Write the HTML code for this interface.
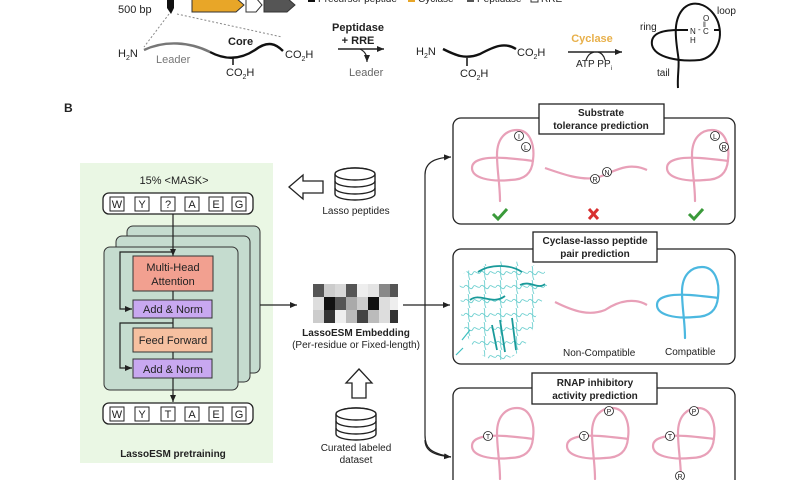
<!DOCTYPE html>
<html><head><meta charset="utf-8"><style>
html,body{margin:0;padding:0;background:#fff}
svg{display:block}
text{font-family:"Liberation Sans",Arial,sans-serif;fill:#222}
.b{font-weight:bold}
</style></head><body>
<svg width="800" height="480" viewBox="0 0 800 480" xmlns="http://www.w3.org/2000/svg">
<defs>
<marker id="ar" markerWidth="8" markerHeight="8" refX="7" refY="4" orient="auto" markerUnits="userSpaceOnUse"><path d="M0,1 L7,4 L0,7 z" fill="#222"/></marker>
<g id="knot" fill="none" stroke-width="2.2" stroke-linecap="round">
<path d="M-5,36 C-5,20 -8,5 -8,-10 C-8,-28 2,-35 12,-35 C25,-35 30,-20 28,-5 C27,8 20,15 5,15"/>
<path d="M5,15 C-15,17 -33,13 -33,3 C-33,-7 -15,-8 0,-7 C12,-6 22,-5 28,-4"/>
</g>
<g id="db" fill="#fff" stroke="#222" stroke-width="1.4">
<path d="M0,26 L0,6 A20,6 0 0 1 40,6 L40,26 A20,6 0 0 1 0,26 z"/>
<ellipse cx="20" cy="6" rx="20" ry="6"/>
<path d="M0,13 A20,6 0 0 0 40,13 M0,20 A20,6 0 0 0 40,20" fill="none"/>
</g>
<pattern id="prot" width="16" height="14" patternUnits="userSpaceOnUse">
<path d="M0,7 C3,1 6,13 9,7 C11,3 13,9 16,7 M4,0 C6,4 3,9 6,14" stroke="#70d0d0" stroke-width="0.9" fill="none"/>
</pattern>
<clipPath id="pc"><path d="M470,270 C490,258 530,258 545,272 C552,290 540,300 535,320 C530,345 515,362 495,360 C480,358 470,345 465,330 C458,315 462,300 460,288 C458,278 463,272 470,270 z"/></clipPath>
</defs>

<!-- Panel A top -->
<text x="118" y="13" font-size="11">500 bp</text>
<path d="M167,-2 L174,-2 L174,8 L171,14 L167,8 z" fill="#111"/>
<path d="M192,-2 L236,-2 L244,5 L236,12 L192,12 z" fill="#e8a628" stroke="#333" stroke-width="1"/>
<path d="M246,-2 L256,-2 L262,5 L256,12 L246,12 z" fill="#fff" stroke="#333" stroke-width="1"/>
<path d="M264,-2 L287,-2 L295,5 L287,12 L264,12 z" fill="#555" stroke="#333" stroke-width="1"/>
<rect x="308" y="-5" width="7" height="7" fill="#111"/><text x="318" y="2" font-size="10">Precursor peptide</text>
<rect x="408" y="-5" width="7" height="7" fill="#e8a628"/><text x="418" y="2" font-size="10">Cyclase</text>
<rect x="467" y="-5" width="7" height="7" fill="#555"/><text x="477" y="2" font-size="10">Peptidase</text>
<rect x="531" y="-5" width="7" height="7" fill="#fff" stroke="#333"/><text x="541" y="2" font-size="10">RRE</text>
<path d="M169,14 L144,47 M177,14 L282,37" stroke="#888" stroke-dasharray="2,2" fill="none"/>
<text x="118" y="57" font-size="11">H<tspan font-size="7" dy="3">2</tspan><tspan dy="-3">N</tspan></text>
<path d="M144,50 C165,40 190,42 210,52" stroke="#777" stroke-width="2.4" fill="none"/>
<path d="M210,52 C225,60 240,60 255,50 C268,40 276,44 283,51" stroke="#111" stroke-width="2.4" fill="none"/>
<text x="156" y="63" font-size="11" style="fill:#777">Leader</text>
<text x="228" y="45" font-size="11" class="b">Core</text>
<text x="285" y="58" font-size="11">CO<tspan font-size="7" dy="3">2</tspan><tspan dy="-3">H</tspan></text>
<line x1="233" y1="57" x2="233" y2="65" stroke="#111" stroke-width="1.5"/>
<text x="226" y="76" font-size="11">CO<tspan font-size="7" dy="3">2</tspan><tspan dy="-3">H</tspan></text>
<text x="358" y="31" font-size="11" class="b" text-anchor="middle">Peptidase</text>
<text x="358" y="44" font-size="11" class="b" text-anchor="middle">+ RRE</text>
<line x1="338" y1="49" x2="384" y2="49" stroke="#222" stroke-width="1.5" marker-end="url(#ar)"/>
<path d="M360,49 C366,52 367,56 367,62" stroke="#222" fill="none" stroke-width="1.2" marker-end="url(#ar)"/>
<text x="349" y="76" font-size="11" style="fill:#666">Leader</text>
<text x="416" y="55" font-size="11">H<tspan font-size="7" dy="3">2</tspan><tspan dy="-3">N</tspan></text>
<path d="M443,49 C455,55 465,60 480,54 C495,46 505,42 516,49" stroke="#111" stroke-width="2.4" fill="none"/>
<text x="517" y="56" font-size="11">CO<tspan font-size="7" dy="3">2</tspan><tspan dy="-3">H</tspan></text>
<line x1="467" y1="58" x2="467" y2="66" stroke="#111" stroke-width="1.5"/>
<text x="460" y="77" font-size="11">CO<tspan font-size="7" dy="3">2</tspan><tspan dy="-3">H</tspan></text>
<text x="592" y="42" font-size="11" class="b" text-anchor="middle" style="fill:#e8b04a">Cyclase</text>
<line x1="568" y1="52" x2="622" y2="52" stroke="#222" stroke-width="1.5" marker-end="url(#ar)"/>
<path d="M586,60 C588,55 590,53 594,52 M598,52 C602,53 604,56 605,60" stroke="#222" fill="none" stroke-width="1.2"/>
<text x="576" y="67" font-size="10">ATP PP<tspan font-size="6" dy="3">i</tspan></text>
<g stroke="#111" fill="none" stroke-width="2">
<path d="M678,88 C677,75 680,65 678,55 C676,40 672,20 684,8 C695,-2 712,6 718,22 C724,40 715,57 700,60"/>
<path d="M700,60 C680,62 655,58 652,45 C650,32 665,30 680,30 L688,30 M714,30 L719,30"/>
</g>
<text x="640" y="30" font-size="10">ring</text>
<text x="717" y="14" font-size="10">loop</text>
<text x="657" y="76" font-size="10">tail</text>
<text x="690" y="34" font-size="8">N</text><text x="698" y="32" font-size="8">-</text><text x="703" y="34" font-size="8">C</text>
<text x="690" y="43" font-size="8">H</text><text x="703" y="21" font-size="8">O</text><text x="703" y="27" font-size="7">‖</text>

<text x="64" y="112" font-size="12" class="b">B</text>

<!-- Left green pretraining -->
<rect x="80" y="163" width="193" height="300" fill="#eaf7e4"/>
<text x="174" y="184" font-size="11" text-anchor="middle">15% &lt;MASK&gt;</text>
<g font-size="11" text-anchor="middle">
<rect x="103" y="193" width="150" height="21" rx="6" fill="#fff" stroke="#222" stroke-width="1.3"/>
<rect x="110" y="197" width="14" height="14" fill="#fff" stroke="#222"/><text x="117" y="208">W</text>
<rect x="135" y="197" width="14" height="14" fill="#fff" stroke="#222"/><text x="142" y="208">Y</text>
<rect x="161" y="197" width="14" height="14" fill="#fff" stroke="#222"/><text x="168" y="208">?</text>
<rect x="185" y="197" width="14" height="14" fill="#fff" stroke="#222"/><text x="192" y="208">A</text>
<rect x="209" y="197" width="14" height="14" fill="#fff" stroke="#222"/><text x="216" y="208">E</text>
<rect x="232" y="197" width="14" height="14" fill="#fff" stroke="#222"/><text x="239" y="208">G</text>
</g>
<rect x="127" y="226" width="133" height="147" rx="6" fill="#c5dccf" stroke="#333"/>
<rect x="116" y="236" width="134" height="146" rx="6" fill="#c5dccf" stroke="#333"/>
<rect x="104" y="247" width="134" height="143" rx="6" fill="#c5dccf" stroke="#333"/>
<line x1="173" y1="214" x2="173" y2="256" stroke="#222" stroke-width="1.2" marker-end="url(#ar)"/>
<rect x="133" y="256" width="80" height="35" fill="#f2a090" stroke="#333"/>
<text x="173" y="271" font-size="11" text-anchor="middle">Multi-Head</text>
<text x="173" y="285" font-size="11" text-anchor="middle">Attention</text>
<line x1="173" y1="291" x2="173" y2="328" stroke="#222" stroke-width="1.2"/>
<rect x="133" y="300" width="79" height="18" fill="#c8a8f0" stroke="#333"/>
<text x="173" y="313" font-size="11" text-anchor="middle">Add &amp; Norm</text>
<rect x="133" y="328" width="79" height="24" fill="#f6c0a0" stroke="#333"/>
<text x="173" y="344" font-size="11" text-anchor="middle">Feed Forward</text>
<line x1="173" y1="352" x2="173" y2="359" stroke="#222" stroke-width="1.2"/>
<rect x="133" y="359" width="79" height="19" fill="#c8a8f0" stroke="#333"/>
<text x="173" y="373" font-size="11" text-anchor="middle">Add &amp; Norm</text>
<path d="M173,252 L120,252 L120,309 L132,309" stroke="#222" fill="none" stroke-width="1.2" marker-end="url(#ar)"/>
<path d="M173,323 L120,323 L120,368 L132,368" stroke="#222" fill="none" stroke-width="1.2" marker-end="url(#ar)"/>
<line x1="173" y1="378" x2="173" y2="402" stroke="#222" stroke-width="1.2" marker-end="url(#ar)"/>
<g font-size="11" text-anchor="middle">
<rect x="103" y="403" width="150" height="21" rx="6" fill="#fff" stroke="#222" stroke-width="1.3"/>
<rect x="110" y="407" width="14" height="14" fill="#fff" stroke="#222"/><text x="117" y="418">W</text>
<rect x="135" y="407" width="14" height="14" fill="#fff" stroke="#222"/><text x="142" y="418">Y</text>
<rect x="161" y="407" width="14" height="14" fill="#fff" stroke="#222"/><text x="168" y="418">T</text>
<rect x="185" y="407" width="14" height="14" fill="#fff" stroke="#222"/><text x="192" y="418">A</text>
<rect x="209" y="407" width="14" height="14" fill="#fff" stroke="#222"/><text x="216" y="418">E</text>
<rect x="232" y="407" width="14" height="14" fill="#fff" stroke="#222"/><text x="239" y="418">G</text>
</g>
<text x="173" y="457" font-size="10" class="b" text-anchor="middle">LassoESM pretraining</text>

<!-- Middle -->
<path d="M289,187 L303,175 L303,181 L323,181 L323,193 L303,193 L303,199 z" fill="#fff" stroke="#222" stroke-width="1.3"/>
<use href="#db" x="335" y="168"/>
<text x="356" y="214" font-size="10" text-anchor="middle">Lasso peptides</text>
<line x1="260" y1="305" x2="297" y2="305" stroke="#222" stroke-width="1.2" marker-end="url(#ar)"/>
<g>
<rect x="313" y="284" width="11" height="13" fill="#555"/><rect x="324" y="284" width="11" height="13" fill="#ccc"/><rect x="335" y="284" width="11" height="13" fill="#d8d8d8"/><rect x="346" y="284" width="11" height="13" fill="#555"/><rect x="357" y="284" width="11" height="13" fill="#eee"/><rect x="368" y="284" width="11" height="13" fill="#e4e4e4"/><rect x="379" y="284" width="11" height="13" fill="#888"/><rect x="390" y="284" width="8" height="13" fill="#555"/>
<rect x="313" y="297" width="11" height="13" fill="#ddd"/><rect x="324" y="297" width="11" height="13" fill="#111"/><rect x="335" y="297" width="11" height="13" fill="#555"/><rect x="346" y="297" width="11" height="13" fill="#aaa"/><rect x="357" y="297" width="11" height="13" fill="#ccc"/><rect x="368" y="297" width="11" height="13" fill="#111"/><rect x="379" y="297" width="11" height="13" fill="#ddd"/><rect x="390" y="297" width="8" height="13" fill="#eee"/>
<rect x="313" y="310" width="11" height="13" fill="#ccc"/><rect x="324" y="310" width="11" height="13" fill="#333"/><rect x="335" y="310" width="11" height="13" fill="#eee"/><rect x="346" y="310" width="11" height="13" fill="#bbb"/><rect x="357" y="310" width="11" height="13" fill="#444"/><rect x="368" y="310" width="11" height="13" fill="#bbb"/><rect x="379" y="310" width="11" height="13" fill="#ddd"/><rect x="390" y="310" width="8" height="13" fill="#333"/>
</g>
<text x="356" y="336" font-size="10" class="b" text-anchor="middle">LassoESM Embedding</text>
<text x="356" y="348" font-size="10" text-anchor="middle">(Per-residue or Fixed-length)</text>
<path d="M359,369 L372,383 L366,383 L366,398 L352,398 L352,383 L346,383 z" fill="#fff" stroke="#222" stroke-width="1.3"/>
<use href="#db" x="336" y="408"/>
<text x="356" y="451" font-size="10" text-anchor="middle">Curated labeled</text>
<text x="356" y="463" font-size="10" text-anchor="middle">dataset</text>
<line x1="403" y1="305" x2="450" y2="305" stroke="#222" stroke-width="1.2" marker-end="url(#ar)"/>
<path d="M451,457 C430,453 425,448 425,435 L425,175 C425,164 432,158 451,157" stroke="#222" fill="none" stroke-width="1.2" marker-end="url(#ar)"/>
<path d="M425,440 C425,450 432,455 451,457" stroke="#222" fill="none" stroke-width="1.2" marker-end="url(#ar)"/>

<!-- Right panels -->
<rect x="453" y="118" width="282" height="106" rx="8" fill="#fff" stroke="#222" stroke-width="1.3"/>
<rect x="539" y="104" width="125" height="30" fill="#fff" stroke="#222" stroke-width="1.3"/>
<text x="601" y="116" font-size="10" class="b" text-anchor="middle">Substrate</text>
<text x="601" y="129" font-size="10" class="b" text-anchor="middle">tolerance prediction</text>
<g stroke="#e8a0b8"><use href="#knot" x="505" y="165"/><use href="#knot" x="700" y="165"/></g>
<path d="M545,168 C565,175 580,180 595,178 C610,175 625,160 647,170" stroke="#e8a0b8" stroke-width="2.2" fill="none"/>
<g fill="#fff" stroke="#222" stroke-width="0.8">
<circle cx="519" cy="136" r="4.5"/><circle cx="526" cy="147" r="4.5"/><circle cx="595" cy="179" r="4.5"/><circle cx="607" cy="172" r="4.5"/><circle cx="715" cy="136" r="4.5"/><circle cx="724" cy="147" r="4.5"/>
</g>
<g font-size="7" text-anchor="middle">
<text x="519" y="139">I</text><text x="526" y="150">L</text><text x="595" y="182">R</text><text x="607" y="175">N</text><text x="715" y="139">L</text><text x="724" y="150">R</text>
</g>
<path d="M493,214 L498,219 L507,209" stroke="#3a9a3a" stroke-width="3" fill="none"/>
<path d="M689,214 L694,219 L703,209" stroke="#3a9a3a" stroke-width="3" fill="none"/>
<path d="M589,209 L598,219 M598,209 L589,219" stroke="#d83030" stroke-width="3"/>

<rect x="453" y="249" width="282" height="115" rx="8" fill="#fff" stroke="#222" stroke-width="1.3"/>
<rect x="533" y="232" width="124" height="30" fill="#fff" stroke="#222" stroke-width="1.3"/>
<text x="595" y="244" font-size="10" class="b" text-anchor="middle">Cyclase-lasso peptide</text>
<text x="595" y="257" font-size="10" class="b" text-anchor="middle">pair prediction</text>
<g clip-path="url(#pc)">
<rect x="455" y="255" width="100" height="110" fill="url(#prot)"/>
</g>
<g stroke="#1a9a9a" fill="none" stroke-width="1.8">
<path d="M478,272 C490,264 510,264 522,272 M500,320 L505,352 M512,318 L516,350 M492,325 L497,350 M470,300 C480,292 492,306 505,296 M520,285 C530,280 538,290 545,284"/>
</g>
<path d="M462,340 L470,330 M456,355 L463,348" stroke="#40c0c0" stroke-width="1.2"/>
<path d="M555,302 C575,312 590,316 605,310 C620,300 635,298 647,305" stroke="#e8a0b8" stroke-width="2.2" fill="none"/>
<g stroke="#4cb8e0"><use href="#knot" x="690" y="302"/></g>
<text x="563" y="356" font-size="10">Non-Compatible</text>
<text x="665" y="355" font-size="10">Compatible</text>

<rect x="453" y="388" width="282" height="110" rx="8" fill="#fff" stroke="#222" stroke-width="1.3"/>
<rect x="532" y="373" width="125" height="31" fill="#fff" stroke="#222" stroke-width="1.3"/>
<text x="595" y="386" font-size="10" class="b" text-anchor="middle">RNAP inhibitory</text>
<text x="595" y="399" font-size="10" class="b" text-anchor="middle">activity prediction</text>
<g stroke="#e8a0b8"><use href="#knot" x="505" y="443"/><use href="#knot" x="600" y="443"/><use href="#knot" x="686" y="443"/></g>
<g fill="#fff" stroke="#222" stroke-width="0.8">
<circle cx="488" cy="436" r="4.5"/><circle cx="584" cy="436" r="4.5"/><circle cx="609" cy="411" r="4.5"/><circle cx="670" cy="436" r="4.5"/><circle cx="694" cy="411" r="4.5"/><circle cx="680" cy="476" r="4.5"/>
</g>
<g font-size="7" text-anchor="middle">
<text x="488" y="439">T</text><text x="584" y="439">T</text><text x="609" y="414">P</text><text x="670" y="439">T</text><text x="694" y="414">P</text><text x="680" y="479">R</text>
</g>
</svg>
</body></html>
